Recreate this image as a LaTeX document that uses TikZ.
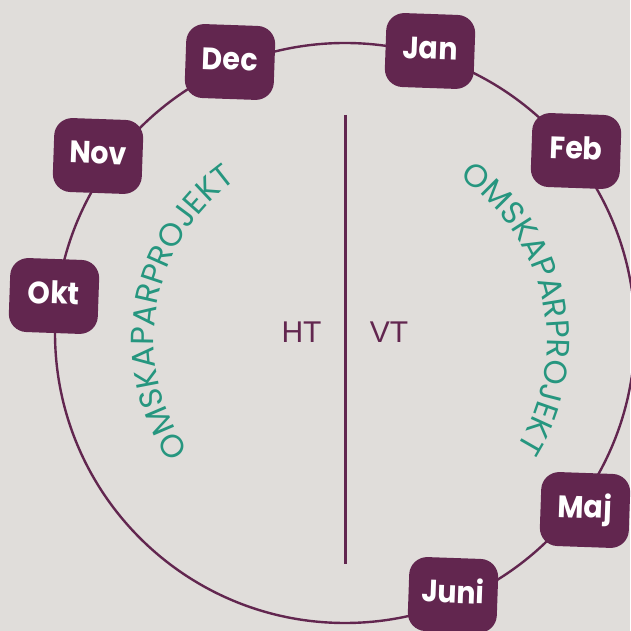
\documentclass[tikz,border=0pt]{standalone}
\usepackage{fontspec}
\setmainfont{Poppins}
\newfontfamily\monthfont{Poppins}[FakeStretch=0.92]
\newfontfamily\htfont{Liberation Sans}
\usetikzlibrary{decorations.text,calc}
\definecolor{bg}{HTML}{E0DDDA}
\definecolor{plum}{HTML}{62264F}
\definecolor{tealtxt}{HTML}{26967F}
\begin{document}
\begin{tikzpicture}[x=1pt,y=1pt,
  month/.style={rounded corners=18pt, fill=plum, minimum width=89pt, minimum height=74pt,
    inner sep=0pt, text=white, font=\monthfont\bfseries\fontsize{31}{31}\selectfont,
    text height=22pt, text depth=6pt, rotate=-2},
  ring/.style={draw=plum, line width=2.4pt},
  half/.style={text=plum, font=\htfont\fontsize{30}{30}\selectfont, inner sep=0pt},
  arctext/.style={decorate, decoration={text along path, text align=center,
    text={|\fontsize{32}{32}\selectfont\color{tealtxt}|OMSKAPARPROJEKT}}}
]
\fill[bg] (0,0) rectangle (630,631);
\useasboundingbox (0,0) rectangle (630,631);
\coordinate (c) at (345,298);
\coordinate (cl) at (350,291);
\coordinate (cr) at (350,289);
\draw[ring] (c) circle[radius=290];
\coordinate (ltop) at (345.5,516);
\coordinate (lbot) at (345.5,67);
\draw[ring] (ltop) -- (lbot);
\node[half, anchor=base] (ht) at (301.5,288) {HT};
\node[half, anchor=base] (vt) at (389,288) {VT};
\path[arctext] ($(cl)+(240:196)$) arc[start angle=240, end angle=100, radius=196];
\path[arctext] ($(cr)+(82:197)$) arc[start angle=82, end angle=-58, radius=197];
\node[month] (dec) at (230,569) {Dec};
\node[month] (jan) at (430,580) {Jan};
\node[month] (feb) at (576,480) {Feb};
\node[month] (nov) at (98,475) {Nov};
\node[month] (okt) at (54,335) {Okt};
\node[month] (maj) at (585,121) {Maj};
\node[month] (juni) at (453,36) {Juni};
\end{tikzpicture}
\end{document}
